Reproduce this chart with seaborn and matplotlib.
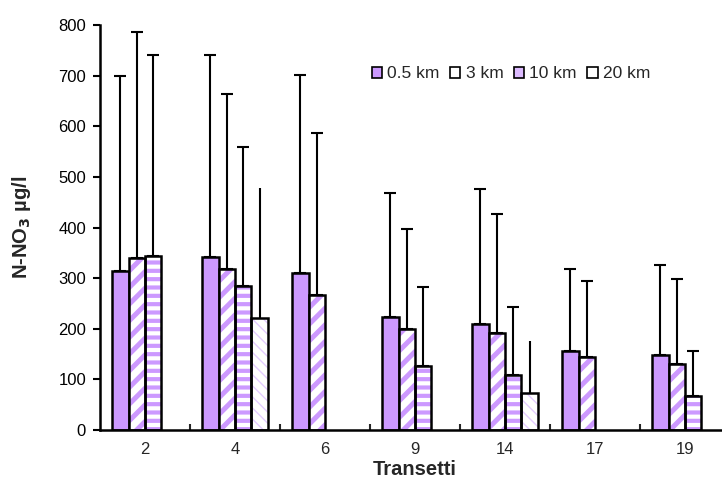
import numpy as np
import pandas as pd
import matplotlib
matplotlib.use("Agg")
import matplotlib.pyplot as plt
import seaborn as sns
from matplotlib.patches import Patch, Rectangle

# ---- data ----
transetti = ["2", "4", "6", "9", "14", "17", "19"]
series = ["0.5 km", "3 km", "10 km", "20 km"]
mean_05 = [315, 342, 311, 224, 209, 157, 148]
mean_3 = [340, 319, 266, 200, 192, 144, 130]
mean_10 = [343, 284, np.nan, 126, 109, np.nan, 67]
mean_20 = [np.nan, 221, np.nan, np.nan, 74, np.nan, np.nan]
top_05 = [700, 741, 702, 468, 476, 318, 325]
top_3 = [787, 663, 587, 398, 427, 294, 298]
top_10 = [741, 559, np.nan, 283, 242, np.nan, 157]
top_20 = [np.nan, 479, np.nan, np.nan, 176, np.nan, np.nan]
yticks = [0, 100, 200, 300, 400, 500, 600, 700, 800]

means = [mean_05, mean_3, mean_10, mean_20]
tops = [top_05, top_3, top_10, top_20]

rows = []
for s, m, t in zip(series, means, tops):
    for c, mv, tv in zip(transetti, m, t):
        if not np.isnan(mv):
            rows.append({"Transetto": c, "Distanza": s, "N": mv, "Top": tv})
df = pd.DataFrame(rows)

PURPLE = "#CC99FF"
sns.set_theme(style="white")
plt.rcParams["font.family"] = ["Liberation Sans", "DejaVu Sans"]

fig = plt.figure(figsize=(7.22, 4.97), dpi=100)
ax = fig.add_axes([100 / 722, 67 / 497, 630 / 722, 405 / 497])

sns.barplot(data=df, x="Transetto", y="N", hue="Distanza", order=transetti,
            hue_order=series, palette=[PURPLE, "white", "white", "white"],
            width=0.73, errorbar=None, saturation=1, edgecolor="black",
            linewidth=1.8, legend=False, ax=ax)

styles = {
    "0.5 km": None,
    "3 km": ("//", PURPLE, 3.6),
    "10 km": ("--", PURPLE, 3.0),
    "20 km": ("\\\\\\", "#E4CCFF", 1.0),
}
capsizes = {"0.5 km": 4.5, "3 km": 4.5, "10 km": 4.5, "20 km": 0}

for s, cont in zip(series, ax.containers):
    st = styles[s]
    xs, ys, es = [], [], []
    for bar in cont:
        cx = bar.get_x() + bar.get_width() / 2
        ci = int(round(cx))
        sub = df[(df.Transetto == transetti[ci]) & (df.Distanza == s)]
        if len(sub) == 0:
            continue
        xs.append(cx)
        ys.append(sub.N.values[0])
        es.append(sub.Top.values[0] - sub.N.values[0])
        if st is not None:
            h, col, lw = st
            bar.set_facecolor("white")
            bar.set_hatch(h)
            bar.set_edgecolor(col)
            bar.set_linewidth(0)
            try:
                bar.set_hatch_linewidth(lw)
            except AttributeError:
                plt.rcParams["hatch.linewidth"] = lw
            ax.add_patch(Rectangle((bar.get_x(), bar.get_y()), bar.get_width(),
                                   bar.get_height(), fill=False,
                                   edgecolor="black", linewidth=1.8, zorder=3))
    ax.errorbar(xs, ys, yerr=[np.zeros(len(es)), es], fmt="none",
                ecolor="black", elinewidth=1.5, capsize=capsizes[s],
                capthick=1.5, zorder=4)

ax.set_xlim(-0.5, len(transetti) - 0.5)
ax.set_ylim(0, 800)
ax.set_yticks(yticks)
ax.set_yticklabels([str(v) for v in yticks], fontsize=12)
ax.tick_params(axis="y", direction="out", length=5, width=1.5, pad=5,
               left=True, colors="black")
ax.tick_params(axis="x", which="major", length=0, pad=9, labelsize=12)
ax.set_xticks(np.arange(0.5, len(transetti) - 0.5, 1), minor=True)
ax.tick_params(axis="x", which="minor", direction="in", length=4, width=1.5,
               bottom=True)

for sp in ["top", "right"]:
    ax.spines[sp].set_visible(False)
for sp in ["left", "bottom"]:
    ax.spines[sp].set_linewidth(1.8)
    ax.spines[sp].set_color("black")

ax.set_xlabel("Transetti", fontsize=14.5, fontweight="bold", labelpad=2)
ax.set_ylabel(r"N-NO$_\mathbf{3}$ µg/l", fontsize=14.5, fontweight="bold",
              labelpad=18)

handles = [
    Patch(facecolor=PURPLE, edgecolor="black", linewidth=1.2),
    Patch(facecolor="white", edgecolor="black", linewidth=1.2),
    Patch(facecolor="#DDBBFF", edgecolor="black", linewidth=1.2),
    Patch(facecolor="white", edgecolor="black", linewidth=1.2),
]
ax.legend(handles, series, ncol=4, frameon=False, fontsize=12.5,
          handlelength=0.6, handleheight=0.6, handletextpad=0.3,
          columnspacing=0.6, loc="center",
          bbox_to_anchor=((511 - 100) / 630, (430 - 74) / 405),
          bbox_transform=ax.transAxes)

fig.savefig("out.png", dpi=100)
